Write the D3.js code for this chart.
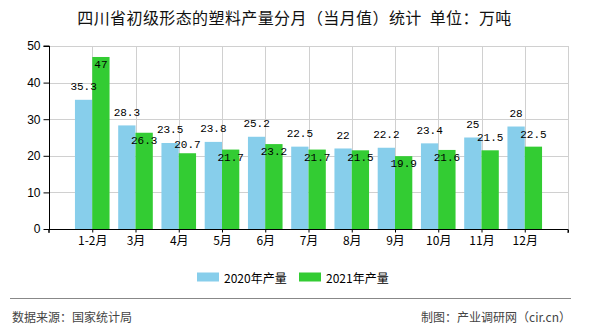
<!DOCTYPE html>
<html>
<head>
<meta charset="utf-8">
<script src="https://cdn.jsdelivr.net/npm/d3@7/dist/d3.min.js"></script>
<style>
  html, body { margin: 0; padding: 0; background: #fff; }
  svg { display: block; }
</style>
</head>
<body>
<script>
const categories = ["1-2月", "3月", "4月", "5月", "6月", "7月", "8月", "9月", "10月", "11月", "12月"];
const values2020 = [35.3, 28.3, 23.5, 23.8, 25.2, 22.5, 22, 22.2, 23.4, 25, 28];
const values2021 = [47, 26.3, 20.7, 21.7, 23.2, 21.7, 21.5, 19.9, 21.6, 21.5, 22.5];
const seriesNames = ["2020年产量", "2021年产量"];
const yTicks = [0, 10, 20, 30, 40, 50];
const titleText = "四川省初级形态的塑料产量分月（当月值）统计  单位：万吨";
const sourceText = "数据来源：国家统计局";
const creditText = "制图：产业调研网（cir.cn）";

const W = 590, H = 330;
const pLeft = 49, pRight = 568, pTop = 46, pBottom = 229;
const colors = ["#87CEEB", "#33CC33"];
const cjk = "'Noto Sans CJK SC', 'Noto Sans', sans-serif";
const num = "'Liberation Mono', 'DejaVu Sans Mono', monospace";

const svg = d3.select("body").append("svg").attr("width", W).attr("height", H);

const x = d3.scalePoint().domain(categories).range([pLeft, pRight]).padding(1);
const y = d3.scaleLinear().domain([0, 50]).range([pBottom, pTop]);
const bw = x.step() * 0.4;

// title
svg.append("text").attr("x", 294.5).attr("y", 17).attr("text-anchor", "middle")
  .attr("dominant-baseline", "central").style("font-family", cjk).style("font-size", "16px")
  .style("white-space", "pre").style("letter-spacing", "0.4px")
  .attr("fill", "#111").text(titleText);

// grid
const grid = svg.append("g").attr("stroke", "#d0d0d0").attr("stroke-width", 1);
grid.selectAll("line.h").data(yTicks.filter(d => d > 0)).join("line")
  .attr("x1", pLeft).attr("x2", pRight).attr("y1", d => Math.round(y(d)) + 0.5).attr("y2", d => Math.round(y(d)) + 0.5);
grid.selectAll("line.v").data(categories.map(c => x(c)).concat([pRight])).join("line")
  .attr("x1", d => Math.round(d) + 0.5).attr("x2", d => Math.round(d) + 0.5).attr("y1", pTop).attr("y2", pBottom);

// bars
const data = categories.map((c, i) => ({ c, a: values2020[i], b: values2021[i] }));
svg.append("g").selectAll("rect").data(data).join("rect")
  .attr("x", d => x(d.c) - bw).attr("width", bw)
  .attr("y", d => y(d.a)).attr("height", d => y(0) - y(d.a)).attr("fill", colors[0]);
svg.append("g").selectAll("rect").data(data).join("rect")
  .attr("x", d => x(d.c)).attr("width", bw)
  .attr("y", d => y(d.b)).attr("height", d => y(0) - y(d.b)).attr("fill", colors[1]);

// axes
const yAxis = svg.append("g").attr("transform", `translate(${pLeft + 0.5},0)`)
  .call(d3.axisLeft(y).tickValues(yTicks).tickSize(6).tickPadding(3));
const xAxis = svg.append("g").attr("transform", `translate(0,${pBottom + 0.5})`)
  .call(d3.axisBottom(x).tickSize(3).tickSizeOuter(3).tickPadding(4));
[yAxis, xAxis].forEach(g => {
  g.selectAll("path, line").attr("stroke", "#000");
  g.selectAll("text").attr("fill", "#000").style("font-size", "12px");
});
yAxis.selectAll("text").style("font-family", "'Liberation Sans', Arial, sans-serif");
xAxis.selectAll("text").style("font-family", cjk);
xAxis.select(".domain").attr("d", `M${pLeft},3.5V0H${pRight}V3.5`);
yAxis.select(".domain").attr("d", `M-6,${pTop}H0V${pBottom}`);
xAxis.append("line").attr("x1", pRight + 0.5).attr("x2", pRight + 0.5).attr("y1", 0).attr("y2", 3).attr("stroke", "#000");
xAxis.append("line").attr("x1", pLeft).attr("x2", pLeft).attr("y1", 0).attr("y2", 3).attr("stroke", "#000");

// value labels
const lab = svg.append("g").style("font-family", num).style("font-size", "11px").attr("fill", "#000")
  .attr("text-anchor", "middle").attr("dominant-baseline", "central");
data.forEach(d => {
  const by = y(d.a) - 12.5;
  lab.append("text").attr("x", x(d.c) - bw / 2).attr("y", by).text(d.a);
  let gy = y(d.b) - 12;
  const gap = gy - by;
  if (gap < 13) gy = gap >= 10 ? by + 15 : y(d.b) + 8;
  lab.append("text").attr("x", x(d.c) + bw / 2).attr("y", gy).text(d.b);
});

// legend
const lg = svg.append("g");
const legendX = [197, 299];
seriesNames.forEach((n, i) => {
  lg.append("rect").attr("x", legendX[i]).attr("y", 272.5).attr("width", 22).attr("height", 9).attr("fill", colors[i]);
  lg.append("text").attr("x", legendX[i] + 27).attr("y", 277).attr("dominant-baseline", "central")
    .style("font-family", cjk).style("font-size", "12px").attr("fill", "#000").text(n);
});

// footer
svg.append("line").attr("x1", 10).attr("x2", 571).attr("y1", 298.5).attr("y2", 298.5).attr("stroke", "#888");
svg.append("text").attr("x", 12).attr("y", 316).attr("dominant-baseline", "central")
  .style("font-family", cjk).style("font-size", "12px").attr("fill", "#444").text(sourceText);
svg.append("text").attr("x", 571).attr("y", 316).attr("text-anchor", "end").attr("dominant-baseline", "central")
  .style("font-family", cjk).style("font-size", "12px").attr("fill", "#444").text(creditText);
</script>
</body>
</html>
